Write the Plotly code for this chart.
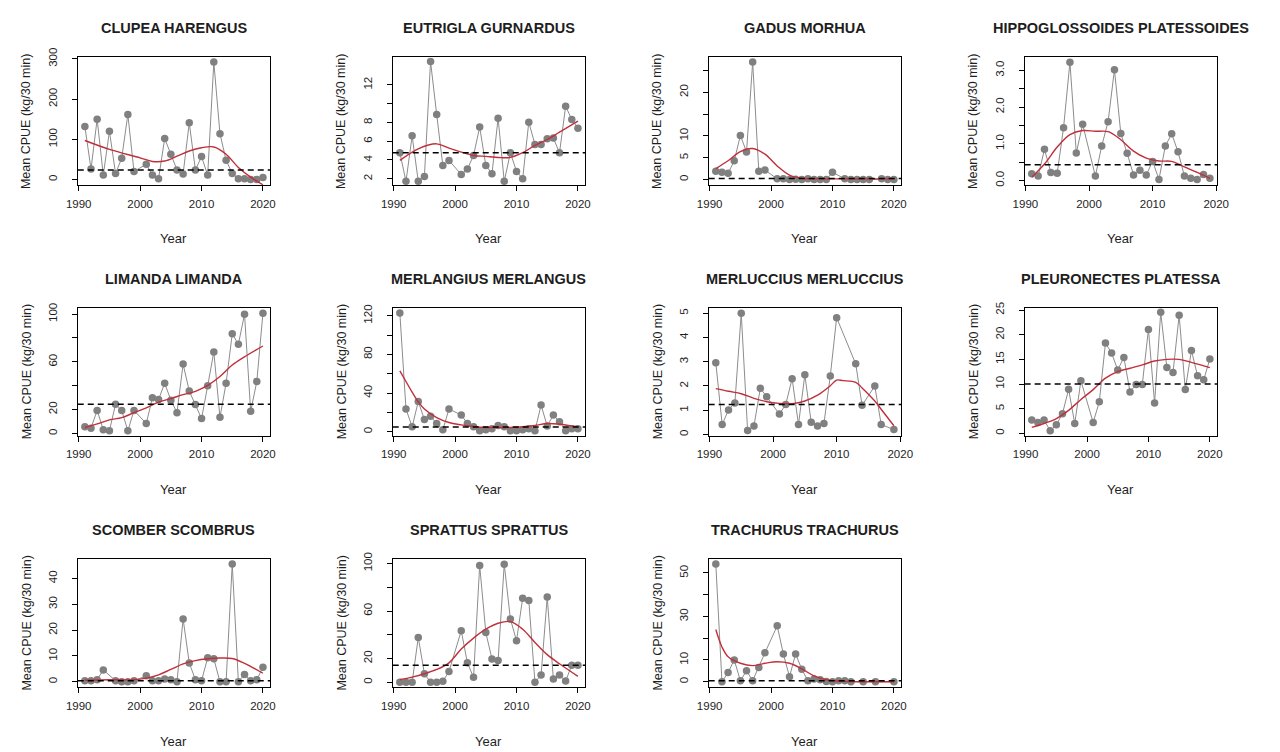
import plotly.graph_objects as go

YEARS = list(range(1991, 2021))

SPECIES = [
    "CLUPEA HARENGUS", "EUTRIGLA GURNARDUS", "GADUS MORHUA", "HIPPOGLOSSOIDES PLATESSOIDES",
    "LIMANDA LIMANDA", "MERLANGIUS MERLANGUS", "MERLUCCIUS MERLUCCIUS", "PLEURONECTES PLATESSA",
    "SCOMBER SCOMBRUS", "SPRATTUS SPRATTUS", "TRACHURUS TRACHURUS",
]

# Mean CPUE per year (None = no value that year)
CLUPEA = [132, 26, 150, 11, 120, 15, 53, 162, 20, None, 38, 11, 2, 102, 63, 24, 14, 141, 24, 57,
          11, 292, 114, 48, 15, 2, 2, 0, 0, 5]
EUTRIGLA = [4.77, 1.72, 6.57, 1.72, 2.25, 14.48, 8.84, 3.42, 3.95, None, 2.46, 3.03, 4.48, 7.5, 3.42,
            2.53, 8.45, 1.72, 4.77, 2.78, 2.0, 8.03, 5.65, 5.65, 6.26, 6.33, 4.77, 9.73, 8.31, 7.39]
GADUS = [1.87, 1.65, 1.42, 4.27, 10.1, 6.3, 26.9, 1.87, 2.17, None, 0.15, 0.15, 0.0, 0.05, 0.0,
         0.15, 0.0, 0.0, 0.0, 1.65, None, 0.15, 0.0, 0.0, 0.0, 0.0, None, 0.15, 0.0, 0.0]
HIPPO = [0.18, 0.12, 0.85, 0.22, 0.20, 1.44, 3.22, 0.75, 1.53, None, 0.12, 0.94, 1.60, 3.02, 1.28,
         0.74, 0.15, 0.28, 0.15, 0.52, 0.03, 0.94, 1.27, 0.78, 0.12, 0.06, 0.03, 0.16, 0.06, None]
LIMANDA = [5.5, 4.4, 19.3, 3.0, 2.2, 24.5, 19.3, 2.2, 19.3, None, 8.3, 29.8, 28.4, 42.1, 27.8,
           17.4, 58.1, 35.5, 24.2, 12.4, 39.9, 68.3, 13.5, 42.1, 83.5, 74.7, 100, 18.5, 43.5, 100.8]
MERLANGIUS = [122.8, 23.5, 5.1, 31.3, 12.6, 16.0, 8.5, 2.0, 23.5, None, 17.3, 8.5, 5.1, 1.0, 2.0,
              3.1, 6.5, 5.1, 1.0, 1.0, 2.0, 3.1, 1.0, 27.6, 5.8, 17.3, 10.2, 1.0, 3.1, 3.1]
MERLUCCIUS = [2.96, 0.41, 1.01, 1.30, 5.0, 0.16, 0.35, 1.91, 1.55, None, 0.84, 1.24, 2.30, 0.41, 2.46,
              0.50, 0.35, 0.45, 2.41, 4.81, None, None, 2.91, 1.20, None, 2.0, 0.41, None, 0.2, None]
PLEURONECTES = [2.73, 2.2, 2.73, 0.53, 1.73, 4.0, 8.93, 2.0, 10.67, None, 2.2, 6.4, 18.33, 16.27, 12.87,
                15.4, 8.4, 9.93, 9.93, 21.07, 6.13, 24.53, 13.33, 12.33, 23.93, 8.87, 16.8, 11.67, 10.87, 15.07]
SCOMBER = [0.4, 0.4, 0.8, 4.6, None, 0.4, 0.0, 0.0, 0.4, None, 2.3, 0.4, 0.4, 1.1, 0.8,
           0.0, 24.3, 7.3, 0.8, 0.4, 9.3, 8.9, 0.0, 0.0, 45.6, 0.0, 2.8, 0.4, 0.8, 5.6]
SPRATTUS = [0.0, 0.0, 0.0, 37.8, 7.2, 0.0, 0.0, 0.8, 9.2, None, 43.3, 16.4, 4.2, 98.3, 41.9,
            19.7, 18.3, 99.4, 53.3, 35.0, 70.8, 68.9, 0.0, 6.1, 71.7, 2.8, 6.1, 1.1, 14.4, 14.4]
TRACHURUS = [54.1, 0.0, 4.2, 10.0, 0.5, 5.0, 0.5, 6.5, 13.3, None, 25.7, 12.8, 2.3, 12.8, 5.7,
             0.5, 1.2, 0.9, 0.15, 0.0, 0.5, 0.5, 0.0, None, 0.0, None, 0.0, None, None, 0.0]

SERIES = [CLUPEA, EUTRIGLA, GADUS, HIPPO, LIMANDA, MERLANGIUS, MERLUCCIUS, PLEURONECTES,
          SCOMBER, SPRATTUS, TRACHURUS]

# Smoothed trend
SMOOTH_X = [
    [1991, 1995, 2000, 2002, 2004, 2006, 2008, 2010, 2012, 2014, 2016, 2018, 2020],
    [1991, 1994, 1997, 1999, 2001, 2003, 2005, 2007, 2009, 2011, 2013, 2015, 2017, 2020],
    [1991, 1993, 1995, 1997, 1999, 2001, 2003, 2005, 2010, 2015, 2020],
    [1991, 1993, 1995, 1997, 1999, 2001, 2003, 2005, 2007, 2009, 2011, 2013, 2015, 2017, 2019],
    [1991, 1993, 1995, 1997, 1999, 2001, 2003, 2005, 2007, 2009, 2011, 2013, 2015, 2017, 2020],
    [1991, 1992, 1993, 1994, 1995, 1997, 1999, 2001, 2003, 2005, 2007, 2009, 2011, 2013, 2015, 2017, 2020],
    [1991, 1993, 1995, 1997, 1999, 2001, 2003, 2005, 2007, 2009, 2010, 2011, 2013, 2014, 2016, 2017, 2019],
    [1991, 1993, 1995, 1997, 1999, 2001, 2003, 2005, 2007, 2009, 2011, 2013, 2015, 2017, 2020],
    [1991, 1995, 1999, 2001, 2003, 2005, 2007, 2009, 2011, 2013, 2015, 2017, 2020],
    [1991, 1993, 1995, 1997, 1999, 2001, 2003, 2005, 2007, 2009, 2011, 2013, 2015, 2017, 2020],
    [1991, 1992, 1993, 1995, 1997, 1999, 2001, 2003, 2005, 2007, 2009, 2012, 2015, 2020],
]
SMOOTH_Y = [
    [97, 75, 54, 45, 46, 58, 71, 79, 81, 63, 30, 6, -13],
    [3.95, 5.19, 5.72, 5.26, 4.84, 4.48, 4.38, 4.27, 4.27, 4.77, 5.55, 6.18, 6.96, 8.13],
    [2.5, 4.3, 6.4, 7.1, 5.8, 3.1, 1.0, 0.3, 0.15, 0.15, 0.15],
    [0.09, 0.45, 0.91, 1.25, 1.36, 1.34, 1.33, 1.11, 0.80, 0.61, 0.53, 0.52, 0.37, 0.22, 0.06],
    [5.0, 8.0, 11.3, 13.2, 17.4, 21.5, 26.2, 29.2, 32.5, 35.3, 40.2, 47.7, 57.3, 64.2, 73.3],
    [63, 52, 41, 31, 23.5, 14.6, 9.5, 7.1, 5.4, 4.4, 4.4, 4.4, 5.1, 6.5, 8.5, 7.8, 5.1],
    [1.89, 1.78, 1.68, 1.49, 1.35, 1.28, 1.27, 1.38, 1.62, 2.01, 2.24, 2.22, 2.15, 1.92, 1.38, 1.04, 0.36],
    [1.2, 2.0, 3.0, 4.67, 6.87, 8.87, 11.2, 12.53, 13.2, 13.87, 14.67, 15.0, 15.0, 14.4, 13.33],
    [0.6, 0.8, 0.8, 1.4, 2.7, 4.8, 6.9, 8.2, 8.9, 9.2, 9.0, 7.1, 3.3],
    [2.2, 4.4, 7.2, 10.8, 16.4, 28.0, 37.2, 44.7, 49.7, 51.1, 44.7, 33.6, 23.3, 15.6, 5.0],
    [24.0, 16.0, 11.5, 8.5, 7.4, 8.5, 9.2, 8.5, 5.9, 2.7, 0.9, 0.15, 0.0, 0.0],
]

# Reference level (black dashed line)
REF_LEVEL = [24, 4.77, 0.25, 0.43, 24.5, 4.8, 1.24, 10.0, 0.4, 14.4, 0.5]

# y-axis ticks and labels
Y_TICKS = [
    [0, 100, 200, 300],
    [2, 4, 6, 8, 10, 12],
    [0, 5, 10, 15, 20, 25],
    [0, 0.5, 1.0, 1.5, 2.0, 2.5, 3.0],
    [0, 20, 40, 60, 80, 100],
    [0, 20, 40, 60, 80, 100, 120],
    [0, 1, 2, 3, 4, 5],
    [0, 5, 10, 15, 20, 25],
    [0, 10, 20, 30, 40],
    [0, 20, 40, 60, 80, 100],
    [0, 10, 20, 30, 40, 50],
]
Y_LABELS = [
    ["0", "100", "200", "300"],
    ["2", "4", "6", "8", "", "12"],
    ["0", "5", "10", "", "20", ""],
    ["0.0", "", "1.0", "", "2.0", "", "3.0"],
    ["0", "20", "", "60", "", "100"],
    ["0", "", "40", "", "80", "", "120"],
    ["0", "1", "2", "3", "4", "5"],
    ["0", "5", "10", "15", "20", "25"],
    ["0", "10", "20", "30", "40"],
    ["0", "20", "", "60", "", "100"],
    ["0", "10", "", "30", "", "50"],
]
X_TICKS = [1990, 2000, 2010, 2020]
X_LABELS = ["1990", "2000", "2010", "2020"]

Y_RANGES = [
    [-14.6, 304], [1.29, 14.94], [-1.35, 28.0], [-0.134, 3.356], [-1.9, 105.5], [-4.1, 128.5],
    [-0.05, 5.23], [-0.47, 25.5], [-2.0, 47.6], [-3.9, 103.9], [-2.4, 56.5],
]
X_RANGES = [[1989.84, 2021.16]] * 11
X_RANGES[3] = [1989.88, 2020.12]
X_RANGES[6] = [1989.88, 2020.12]

W, H = 1280, 752
COL_LEFT = [67, 388, 710, 1032]
ROW_TOP = [48, 302, 557]
PW, PH = 196, 130
FONT = "Liberation Sans, Arial, sans-serif"
TXT = "#1e1e1e"

fig = go.Figure()
annotations = []
shapes = []

for i, name in enumerate(SPECIES):
    r, c = divmod(i, 4)
    k = i + 1
    xa = "x" if k == 1 else f"x{k}"
    ya = "y" if k == 1 else f"y{k}"
    x0 = COL_LEFT[c] / W
    x1 = (COL_LEFT[c] + PW) / W
    y1 = 1 - ROW_TOP[r] / H
    y0 = 1 - (ROW_TOP[r] + PH) / H

    fig.add_trace(go.Scatter(
        x=YEARS, y=SERIES[i], mode="lines", connectgaps=True,
        line=dict(color="#8c8c8c", width=1), xaxis=xa, yaxis=ya,
        showlegend=False, hoverinfo="skip"))
    fig.add_trace(go.Scatter(
        x=YEARS, y=SERIES[i], mode="markers",
        marker=dict(color="#808080", size=7.5), xaxis=xa, yaxis=ya,
        showlegend=False, name=name))
    fig.add_trace(go.Scatter(
        x=SMOOTH_X[i], y=SMOOTH_Y[i], mode="lines", line_shape="spline",
        line=dict(color="#c0303a", width=1.4), xaxis=xa, yaxis=ya,
        showlegend=False, hoverinfo="skip"))

    shapes.append(dict(type="line", xref=f"{xa} domain", yref=ya, x0=0, x1=1,
                       y0=REF_LEVEL[i], y1=REF_LEVEL[i],
                       line=dict(color="black", width=1.5, dash="6px,4px")))

    axis_common = dict(showgrid=False, zeroline=False, showline=True, mirror=True,
                       linecolor="black", linewidth=1, ticks="outside", ticklen=5,
                       tickwidth=1, tickcolor="black",
                       tickfont=dict(family=FONT, size=11.5, color=TXT))
    fig.update_layout(**{
        ("xaxis" if k == 1 else f"xaxis{k}"): dict(
            domain=[x0, x1], anchor=ya, range=X_RANGES[i],
            tickvals=X_TICKS, ticktext=X_LABELS, ticklabelstandoff=3,
            **axis_common),
        ("yaxis" if k == 1 else f"yaxis{k}"): dict(
            domain=[y0, y1], anchor=xa, range=Y_RANGES[i],
            tickvals=Y_TICKS[i], ticktext=Y_LABELS[i], tickangle=-90,
            ticklabelstandoff=10,
            **axis_common),
    })

    cx = (COL_LEFT[c] + PW / 2) / W
    title_y = [18, 273, 528][r]
    annotations.append(dict(text=f"<b>{name}</b>", x=cx, y=1 - title_y / H, xref="paper", yref="paper",
                            showarrow=False, xanchor="center", yanchor="middle",
                            font=dict(family=FONT, size=14.5, color=TXT)))
    year_y = [232, 487, 742][r]
    annotations.append(dict(text="Year", x=cx, y=1 - year_y / H, xref="paper", yref="paper",
                            showarrow=False, xanchor="center", yanchor="middle",
                            font=dict(family=FONT, size=13, color=TXT)))
    ylab_x = COL_LEFT[c] - 52
    annotations.append(dict(text="Mean CPUE (kg/30 min)", x=ylab_x / W,
                            y=1 - (ROW_TOP[r] + PH / 2) / H, xref="paper", yref="paper",
                            showarrow=False, xanchor="center", yanchor="middle", textangle=-90,
                            font=dict(family=FONT, size=12.5, color=TXT)))

fig.update_layout(width=W, height=H, margin=dict(l=0, r=0, t=0, b=0),
                  paper_bgcolor="white", plot_bgcolor="white",
                  annotations=annotations, shapes=shapes, showlegend=False)

fig.write_html("out.html")
